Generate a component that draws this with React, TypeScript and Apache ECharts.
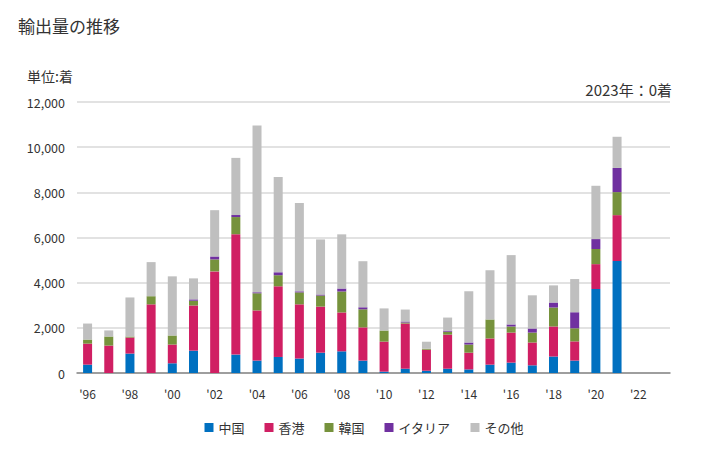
import React, { useEffect, useRef } from "react";
import * as echarts from "echarts";

const years = ["1996","1997","1998","1999","2000","2001","2002","2003","2004","2005","2006","2007","2008","2009","2010","2011","2012","2013","2014","2015","2016","2017","2018","2019","2020","2021","2022","2023"];
const china = [370,0,860,0,430,990,0,815,550,710,640,900,960,550,60,190,100,190,160,370,460,340,730,550,3720,4960,0,0];
const hongkong = [930,1215,710,3040,830,2000,4500,5330,2220,3130,2400,2040,1720,1470,1330,2000,930,1510,740,1160,1330,1010,1330,850,1100,2030,0,0];
const korea = [180,400,45,360,400,210,530,760,760,490,530,490,930,800,490,45,45,130,360,840,270,440,840,580,670,1020,0,0];
const italy = [0,0,0,0,0,60,130,90,45,130,45,45,130,90,0,45,0,45,90,0,90,180,220,710,440,1070,0,0];
const others = [710,270,1730,1510,2620,930,2050,2530,7380,4220,3910,2440,2400,2040,980,530,310,580,2270,2180,3070,1470,760,1470,2360,1380,0,0];

const seriesNames = ["中国", "香港", "韓国", "イタリア", "その他"];
const seriesColors = ["#0070c0", "#d01f63", "#76923c", "#7030a0", "#bfbfbf"];
const seriesData = [china, hongkong, korea, italy, others];

const FONT = "'Noto Sans CJK JP', 'Noto Sans', sans-serif";

export default function App() {
  const ref = useRef<HTMLDivElement>(null);
  useEffect(() => {
    if (!ref.current) return;
    const chart = echarts.init(ref.current, null, { renderer: "svg" });
    chart.setOption({
      animation: false,
      textStyle: { fontFamily: FONT },
      graphic: [
        { type: "text", left: 10, top: 9, style: { text: "輸出量の推移", fontSize: 17, fill: "#333", fontFamily: FONT } },
        { type: "text", left: 19, top: 61, style: { text: "単位:着", fontSize: 14, fill: "#333", fontFamily: FONT } },
        { type: "text", right: 48, top: 74, style: { text: "2023年：0着", fontSize: 15, fill: "#333", fontFamily: FONT } },
      ],
      legend: {
        bottom: 3,
        left: "center",
        itemWidth: 9,
        itemHeight: 9,
        itemGap: 20,
        icon: "rect",
        textStyle: { fontSize: 13, color: "#333", fontFamily: FONT },
        data: seriesNames,
      },
      grid: { left: 69, right: 50, top: 94, bottom: 69 },
      xAxis: {
        type: "category",
        data: years,
        axisTick: { show: false },
        axisLine: { lineStyle: { color: "#888", width: 1.5 } },
        axisLabel: {
          interval: 1,
          color: "#333",
          fontSize: 12,
          margin: 14,
          formatter: (v: string) => "'" + v.slice(2),
        },
      },
      yAxis: {
        type: "value",
        min: 0,
        max: 12000,
        interval: 2000,
        axisLine: { show: false },
        axisTick: { show: false },
        splitLine: { lineStyle: { color: "#d9d9d9", width: 1.5 } },
        axisLabel: {
          color: "#333",
          fontSize: 12.5,
          margin: 12,
          formatter: (v: number) => v.toLocaleString("en-US"),
        },
      },
      series: seriesNames.map((name, i) => ({
        name,
        type: "bar",
        stack: "total",
        barWidth: 9,
        itemStyle: { color: seriesColors[i] },
        data: seriesData[i],
      })),
    });
    return () => chart.dispose();
  }, []);
  return <div ref={ref} style={{ width: 712, height: 434 }} />;
}
